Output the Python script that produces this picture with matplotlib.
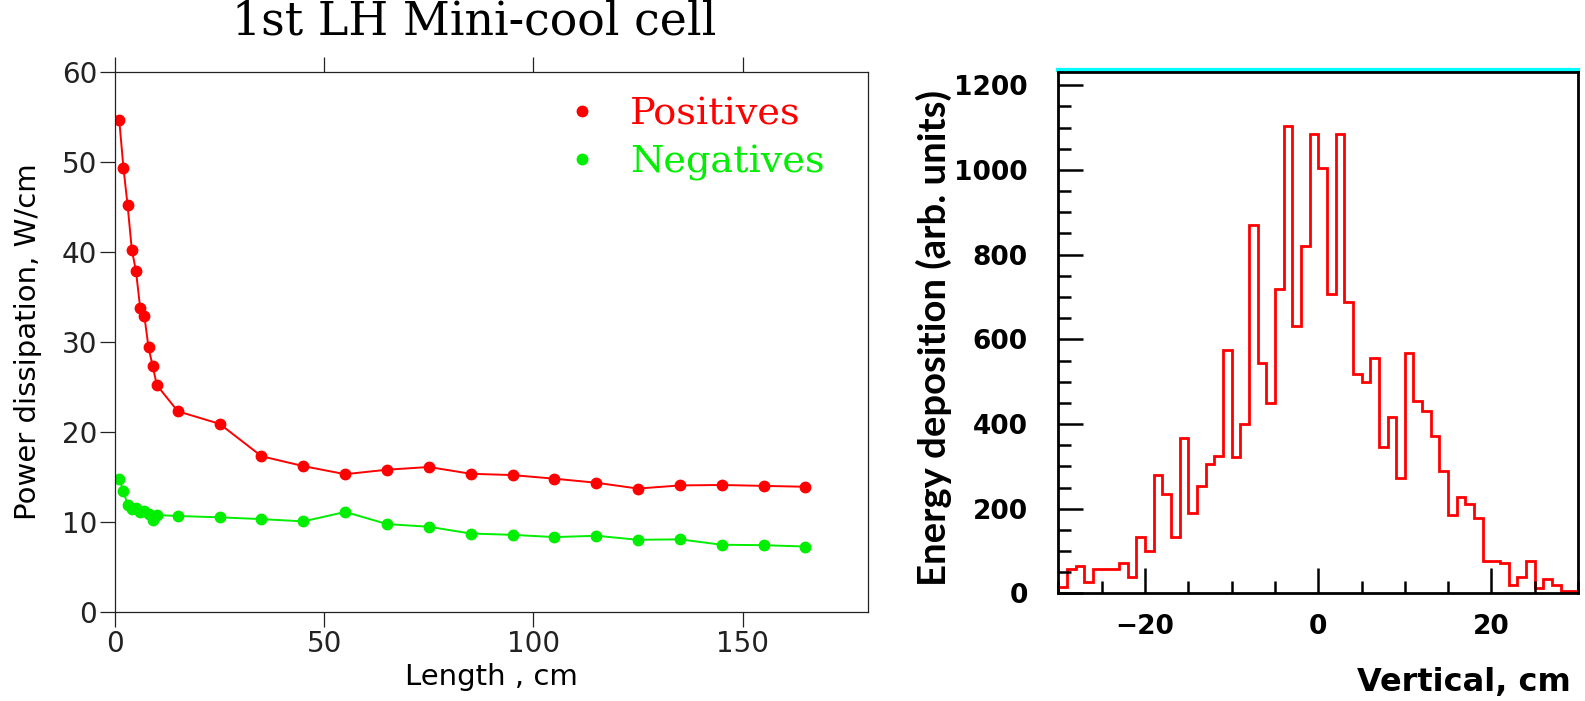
import numpy as np
import matplotlib.pyplot as plt
from matplotlib.ticker import MultipleLocator, FixedLocator

plt.rcParams['font.family'] = ['DejaVu Sans']

# left panel: power dissipation along the 1st LH mini-cool cell
length_cm = [1, 2, 3, 4, 5, 6, 7, 8, 9, 10, 15, 25, 35, 45, 55, 65,
             75, 85, 95, 105, 115, 125, 135, 145, 155, 165]
positives = [54.7, 49.4, 45.2, 40.3, 37.9, 33.8, 32.9, 29.4, 27.3, 25.2,
             22.3, 20.9, 17.3, 16.2, 15.3, 15.8, 16.1, 15.35, 15.2, 14.8,
             14.35, 13.7, 14.05, 14.1, 14.0, 13.9]
negatives = [14.8, 13.4, 11.9, 11.4, 11.5, 11.05, 11.25, 10.85, 10.2, 10.75,
             10.65, 10.5, 10.3, 10.05, 11.1, 9.75, 9.45, 8.7, 8.55, 8.3,
             8.45, 8.0, 8.05, 7.45, 7.4, 7.25]

# right panel: energy deposition histogram, 1 cm bins from -30 to 30
vert_lo, vert_hi = -30, 30
energy = [14, 57, 65, 26, 57, 57, 57, 71, 38, 134,
          101, 280, 235, 133, 368, 190, 254, 305, 324, 575,
          323, 399, 871, 543, 449, 719, 1104, 631, 821, 1086,
          1004, 706, 1086, 689, 518, 500, 557, 346, 417, 272,
          568, 455, 431, 372, 290, 185, 228, 210, 177, 77,
          77, 72, 20, 39, 77, 13, 33, 20, 6, 5]

red = '#ff0000'
green = '#00ee00'

fig = plt.figure(figsize=(15.85, 7.01), dpi=100)

# ---- left plot
ax1 = fig.add_axes([0.0726, 0.1274, 0.4751, 0.7692])
ax1.plot(length_cm, positives, '-o', color=red, ms=7.5, lw=1.4, label='Positives')
ax1.plot(length_cm, negatives, '-o', color=green, ms=7.5, lw=1.4, label='Negatives')
ax1.set_xlim(0, 180)
ax1.set_ylim(0, 60)
ax1.set_xticks([0, 50, 100, 150])
ax1.set_yticks(range(0, 61, 10))
ax1.tick_params(direction='out', length=11, width=0.9, top=True, right=False,
                labelsize=20, pad=2, colors='#222222')
for s in ax1.spines.values():
    s.set_linewidth(0.9)
    s.set_color('#222222')
ax1.set_xlabel('Length , cm', fontsize=21, labelpad=4)
ax1.set_ylabel('Power dissipation, W/cm', fontsize=21, labelpad=14)

ax1.legend(loc='upper left', bbox_to_anchor=(0.62, 0.955), frameon=False,
           handlelength=0, handletextpad=1.25, labelspacing=0.3,
           borderpad=0, borderaxespad=0, numpoints=1, labelcolor='linecolor',
           prop={'family': 'DejaVu Serif', 'size': 27.5})

fig.text(474 / 1585, 1 - 22 / 701, '1st LH Mini-cool cell', ha='center', va='center',
         family='DejaVu Serif', fontsize=33)

# ---- right plot
ax2 = fig.add_axes([0.6678, 0.1535, 0.3278, 0.7442])
ax2.stairs(energy, np.arange(vert_lo, vert_hi + 1), color=red, lw=2, baseline=0)
ax2.set_xlim(vert_lo, vert_hi)
ax2.set_ylim(0, 1232)
ax2.xaxis.set_major_locator(FixedLocator([-20, 0, 20]))
ax2.xaxis.set_minor_locator(MultipleLocator(5))
ax2.yaxis.set_major_locator(MultipleLocator(200))
ax2.yaxis.set_minor_locator(MultipleLocator(50))
ax2.tick_params(which='major', direction='in', length=18, width=1.8, labelsize=19)
ax2.tick_params(which='minor', direction='in', length=9, width=1.8)
ax2.tick_params(axis='y', which='major', pad=22)
ax2.tick_params(axis='x', which='major', pad=15)
for lab in ax2.get_xticklabels() + ax2.get_yticklabels():
    lab.set_fontweight('bold')
for s in ax2.spines.values():
    s.set_linewidth(2)
ax2.plot([0, 1], [1.004, 1.004], transform=ax2.transAxes, color='cyan', lw=3,
         clip_on=False)

fig.text(934 / 1585, 1 - 338 / 701, 'Energy deposition (arb. units)', rotation=90,
         ha='center', va='center', family=['Lato', 'DejaVu Sans'], weight='bold',
         fontsize=27.5)
fig.text(1571 / 1585, 1 - 683 / 701, 'Vertical, cm', ha='right', va='center',
         weight='bold', fontsize=23)

fig.savefig('out.png', dpi=100)
